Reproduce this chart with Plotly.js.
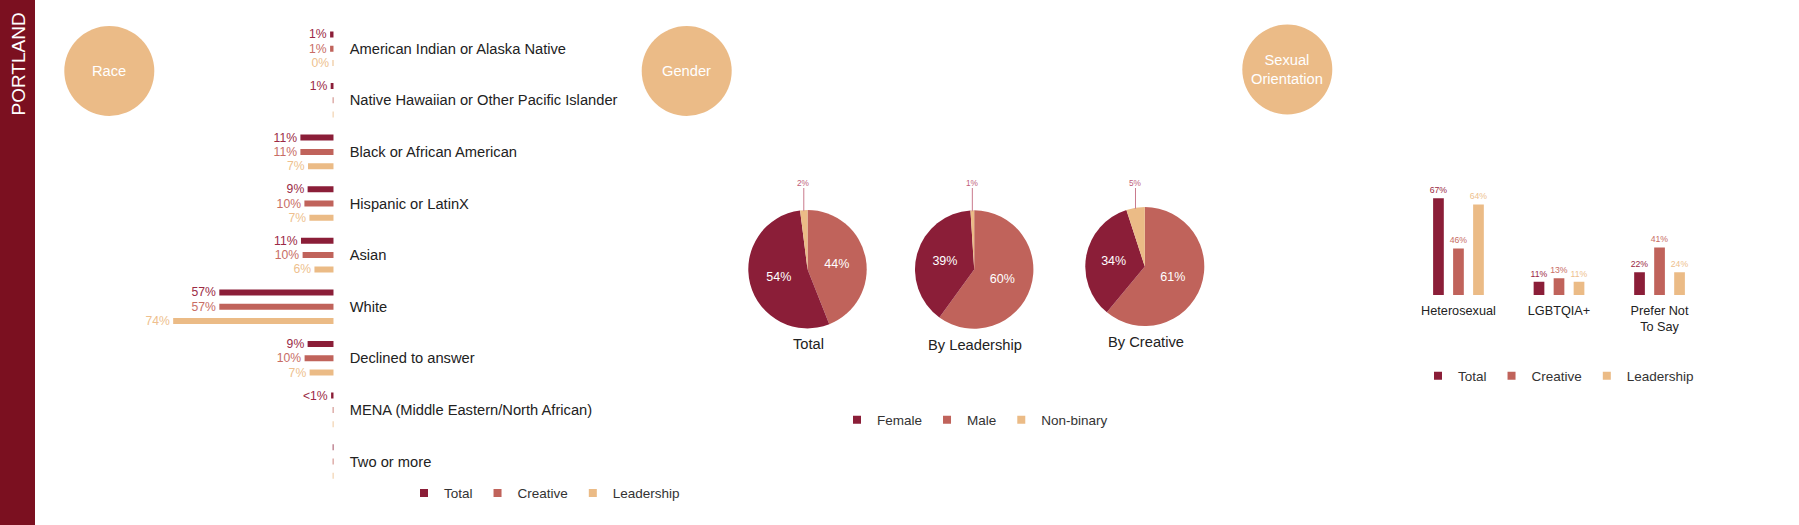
<!DOCTYPE html>
<html><head><meta charset="utf-8">
<script src="https://cdn.plot.ly/plotly-3.0.1.min.js"></script>
<style>html,body{margin:0;padding:0;background:#fff;overflow:hidden}</style>
</head><body><div id="chart" style="width:1799px;height:525px"></div>
<script>
// ---------- DATA ----------
const seriesNames = ['Total', 'Creative', 'Leadership'];

const raceCategories = ['American Indian or Alaska Native', 'Native Hawaiian or Other Pacific Islander',
  'Black or African American', 'Hispanic or LatinX', 'Asian', 'White', 'Declined to answer',
  'MENA (Middle Eastern/North African)', 'Two or more'];
// bar lengths as drawn in the picture
const raceTotal      = [1.8, 1.5, 16.6, 13.0, 16.3, 57, 13.0, 1.3, 0.5];
const raceCreative   = [1.8, 0.5, 16.6, 14.6, 15.5, 57, 14.5, 0.5, 0.5];
const raceLeadership = [0.6, 0.5, 12.8, 12.1,  9.6, 80, 12.0, 0.5, 0.5];
// printed value labels
const raceTotalText      = ['1%', '1%', '11%', '9%', '11%', '57%', '9%', '<1%', ''];
const raceCreativeText   = ['1%', '', '11%', '10%', '10%', '57%', '10%', '', ''];
const raceLeadershipText = ['0%', '', '7%', '7%', '6%', '74%', '7%', '', ''];

const genderLabels = ['Female', 'Male', 'Non-binary'];
const genderTotal      = [54, 44, 2];
const genderLeadership = [39, 60, 1];
const genderCreative   = [34, 61, 5];
const pieTitles = ['Total', 'By Leadership', 'By Creative'];

const soCategories = ['Heterosexual', 'LGBTQIA+', 'Prefer Not<br>To Say'];
// bar heights as drawn in the picture
const soTotal      = [67, 9.2, 15.7];
const soCreative   = [32.3, 11.6, 33];
const soLeadership = [62.8, 9.2, 15.7];
// printed value labels
const soTotalText      = ['67%', '11%', '22%'];
const soCreativeText   = ['46%', '13%', '41%'];
const soLeadershipText = ['64%', '11%', '24%'];

// ---------- STYLE ----------
const W = 1799, H = 525;
const fx = px => px / W;
const fy = py => 1 - py / H;
const C_TOTAL = '#8b1e38', C_CREATIVE = '#c0635b', C_LEAD = '#ebbb86', C_SIDE = '#7b1020';
const T_TOTAL = '#9b2a45', T_CREATIVE = '#c86d65', T_LEAD = '#eebf8e';
const FONT = 'Liberation Sans, Arial, sans-serif';
const colors = [C_TOTAL, C_CREATIVE, C_LEAD];
const tcolors = [T_TOTAL, T_CREATIVE, T_LEAD];
const NB = '\u00a0';

const traces = [];

// Race bars
[raceTotal, raceCreative, raceLeadership].forEach((vals, i) => {
  const texts = [raceTotalText, raceCreativeText, raceLeadershipText][i];
  traces.push({
    type: 'bar', orientation: 'h', name: seriesNames[i],
    y: raceCategories, x: vals, text: texts, textposition: 'outside',
    texttemplate: '%{text}' + NB,
    textfont: {family: FONT, size: 12.2, color: tcolors[i]},
    constraintext: 'none', cliponaxis: false,
    marker: {color: colors[i], line: {width: 0}},
    xaxis: 'x', yaxis: 'y', showlegend: false, hoverinfo: 'skip'
  });
});

// Sexual orientation bars
const soUnit = 100.5; // px per category
const soBarW = 10.7 / soUnit, soStep = 20 / soUnit;
[soTotal, soCreative, soLeadership].forEach((vals, i) => {
  const texts = [soTotalText, soCreativeText, soLeadershipText][i];
  traces.push({
    type: 'bar', name: seriesNames[i],
    x: soCategories, y: vals, text: texts, textposition: 'outside',
    textfont: {family: FONT, size: 8.7, color: tcolors[i]},
    constraintext: 'none', cliponaxis: false,
    width: soBarW, offset: (i - 1) * soStep - soBarW / 2,
    marker: {color: colors[i], line: {width: 0}},
    xaxis: 'x2', yaxis: 'y2', showlegend: false, hoverinfo: 'skip'
  });
});

// Gender pies
const pies = [
  {vals: genderTotal, cx: 807.5, cy: 269.2, r: 59.2},
  {vals: genderLeadership, cx: 974.2, cy: 269.5, r: 59.2},
  {vals: genderCreative, cx: 1144.8, cy: 266.5, r: 59.5}
];
const pieOrder = [1, 0, 2]; // Male, Female, Non-binary clockwise from 12 o'clock
const shapes = [];
const annotations = [];
pies.forEach((p, k) => {
  traces.push({
    type: 'pie', sort: false, direction: 'clockwise', rotation: 0,
    labels: pieOrder.map(j => genderLabels[j]),
    values: pieOrder.map(j => p.vals[j]),
    text: pieOrder.map(j => j === 2 ? '' : p.vals[j] + '%'),
    textinfo: 'text', textposition: 'inside', insidetextorientation: 'horizontal',
    insidetextfont: {family: FONT, size: 12.5, color: '#ffffff'},
    marker: {colors: pieOrder.map(j => [C_TOTAL, C_CREATIVE, C_LEAD][j]), line: {width: 0}},
    domain: {x: [fx(p.cx - p.r), fx(p.cx + p.r)], y: [fy(p.cy + p.r), fy(p.cy - p.r)]},
    showlegend: false, hoverinfo: 'none'
  });
  annotations.push({xref: 'paper', yref: 'paper', x: fx(p.cx + 1), y: fy(p.cy + p.r + 16), xanchor: 'center', yanchor: 'middle',
    text: pieTitles[k], showarrow: false, font: {family: FONT, size: 14.7, color: '#222'}});
  // small non-binary slice label with a leader line
  const f = p.vals[2] / 100;
  const th = 2 * Math.PI * (1 - f / 2);
  const lx = p.cx + p.r * Math.sin(th);
  const ly = p.cy - p.r * Math.cos(th);
  shapes.push({type: 'line', xref: 'paper', yref: 'paper', x0: fx(lx), x1: fx(lx), y0: fy(188), y1: fy(ly + 1),
    line: {color: '#c97a8c', width: 1}});
  annotations.push({xref: 'paper', yref: 'paper', x: fx(lx), y: fy(183.3), xanchor: 'center', yanchor: 'middle',
    text: p.vals[2] + '%', showarrow: false, font: {family: FONT, size: 8.3, color: '#c0607a'}});
});

// Legend entries
function legendTraces(names, cols, legendId) {
  names.forEach((n, i) => traces.push({
    type: 'scatter', mode: 'markers', x: [null], y: [null], name: n,
    marker: {symbol: 'square', size: 8, color: cols[i]},
    legend: legendId, xaxis: 'x', yaxis: 'y', hoverinfo: 'skip'
  }));
}
legendTraces(seriesNames, colors, 'legend');
legendTraces(genderLabels, colors, 'legend2');
legendTraces(seriesNames, colors, 'legend3');

// Decoration: sidebar and title circles
shapes.unshift({type: 'rect', xref: 'paper', yref: 'paper', x0: 0, x1: fx(35), y0: 0, y1: 1,
  fillcolor: C_SIDE, line: {width: 0}, layer: 'below'});
const circles = [
  {cx: 109.3, cy: 71, r: 45, text: 'Race'},
  {cx: 686.7, cy: 71, r: 45, text: 'Gender'},
  {cx: 1287.3, cy: 69.5, r: 45, text: 'Sexual<br>Orientation'}
];
circles.forEach(c => {
  shapes.push({type: 'circle', xref: 'paper', yref: 'paper',
    x0: fx(c.cx - c.r), x1: fx(c.cx + c.r), y0: fy(c.cy + c.r), y1: fy(c.cy - c.r),
    fillcolor: '#ebbb87', line: {width: 0}, layer: 'below'});
  annotations.push({xref: 'paper', yref: 'paper', x: fx(c.cx), y: fy(c.cy), xanchor: 'center', yanchor: 'middle',
    text: c.text, showarrow: false, font: {family: FONT, size: 14.7, color: '#ffffff'}});
});
annotations.push({xref: 'paper', yref: 'paper', x: fx(17.5), y: fy(64), xanchor: 'center', yanchor: 'middle',
  text: 'PORTLAND', textangle: -90, showarrow: false, font: {family: FONT, size: 19, color: '#ffffff'}});

const legendBase = {orientation: 'h', xanchor: 'left', yanchor: 'middle', bgcolor: 'rgba(0,0,0,0)',
  font: {family: FONT, size: 13.5, color: '#333'}, itemclick: false, itemdoubleclick: false};

const layout = {
  width: W, height: H, margin: {l: 0, r: 0, t: 0, b: 0},
  paper_bgcolor: '#ffffff', plot_bgcolor: 'rgba(0,0,0,0)',
  font: {family: FONT},
  barmode: 'group', bargap: 0.169, bargroupgap: 0.58,
  showlegend: true,
  xaxis: {domain: [fx(153.1), fx(333.7)], range: [90, 0], visible: false, fixedrange: true, anchor: 'y'},
  yaxis: {domain: [fy(487.3), fy(22.9)], type: 'category', range: [8.5, -0.5], side: 'right', anchor: 'x',
    showgrid: false, zeroline: false, showline: false, ticks: '', ticklabelstandoff: 15,
    tickfont: {family: FONT, size: 14.7, color: '#222'}, fixedrange: true},
  xaxis2: {domain: [fx(1408.2), fx(1709.8)], type: 'category', range: [-0.5, 2.5], anchor: 'y2',
    showgrid: false, zeroline: false, showline: false, ticks: '', ticklabelstandoff: 6,
    tickfont: {family: FONT, size: 12.7, color: '#222'}, fixedrange: true},
  yaxis2: {domain: [fy(295), fy(150.7)], range: [0, 100], visible: false, anchor: 'x2', fixedrange: true},
  legend: Object.assign({}, legendBase, {x: fx(404), y: fy(493.3)}),
  legend2: Object.assign({}, legendBase, {x: fx(837), y: fy(420)}),
  legend3: Object.assign({}, legendBase, {x: fx(1418), y: fy(376)}),
  shapes: shapes,
  annotations: annotations
};

Plotly.newPlot('chart', traces, layout, {staticPlot: true, displayModeBar: false});
</script>
</body></html>
